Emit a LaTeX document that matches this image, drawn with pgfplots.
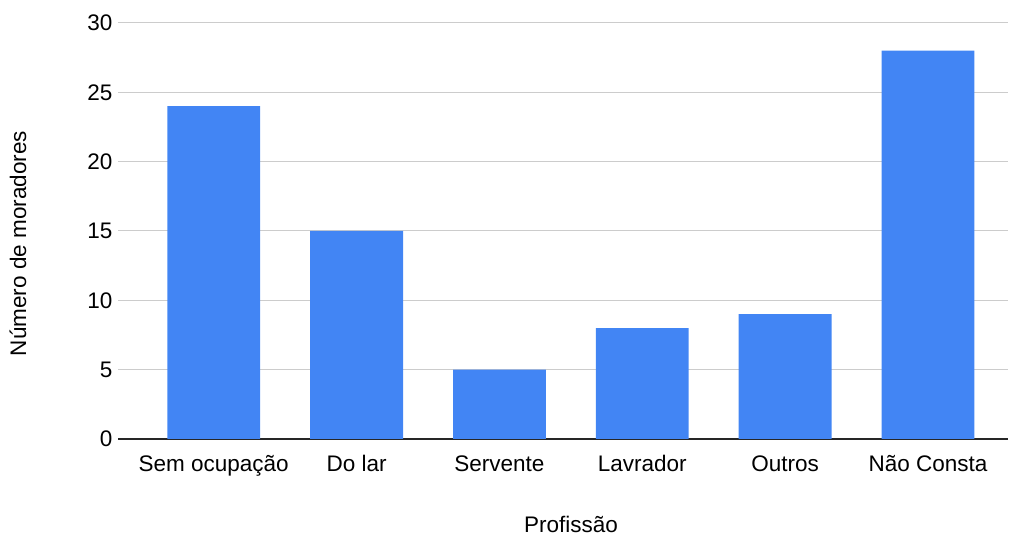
\documentclass[border=0pt]{standalone}
\usepackage{pgfplots}
\pgfplotsset{compat=1.18}
\usepackage{fontspec}
\setmainfont{Liberation Sans}
\definecolor{barblue}{HTML}{4285F4}
\definecolor{gridgray}{HTML}{CCCCCC}
\begin{document}
\begin{tikzpicture}[x=1bp,y=1bp]
\path[use as bounding box] (0,0) rectangle (1009,535);
\begin{axis}[
  at={(118bp,96bp)}, anchor=south west,
  scale only axis, width=890bp, height=416bp,
  xmin=-0.67, xmax=5.56, ymin=0, ymax=30,
  ytick={0,5,10,15,20,25,30},
  xtick={0,1,2,3,4,5},
  xticklabels={Sem ocupação, Do lar, Servente, Lavrador, Outros, Não Consta},
  ymajorgrids, grid style={color=gridgray, line width=1bp},
  axis x line*=bottom, axis y line*=left,
  x axis line style={draw=black!85, line width=1.3bp, -},
  y axis line style={draw=none},
  major tick length=0pt, tick style={draw=none},
  /pgf/number format/assume math mode=true,
  ticklabel style={font=\fontsize{22.5bp}{27bp}\selectfont},
  yticklabel style={xshift=-2bp},
  xticklabel style={yshift=-13bp},
  label style={font=\fontsize{22.5bp}{27bp}\selectfont},
  xlabel={Profissão},
  ylabel={Número de moradores},
  xlabel style={at={(rel axis cs:0.509,-0.205)}, anchor=center},
  ylabel style={at={(rel axis cs:-0.1124,0.47)}, anchor=center, rotate=0},
  ybar, bar width=0.65, bar shift=0pt,
]
\addplot[fill=barblue, draw=none] coordinates {(0,24) (1,15) (2,5) (3,8) (4,9) (5,28)};
\end{axis}
\end{tikzpicture}
\end{document}
